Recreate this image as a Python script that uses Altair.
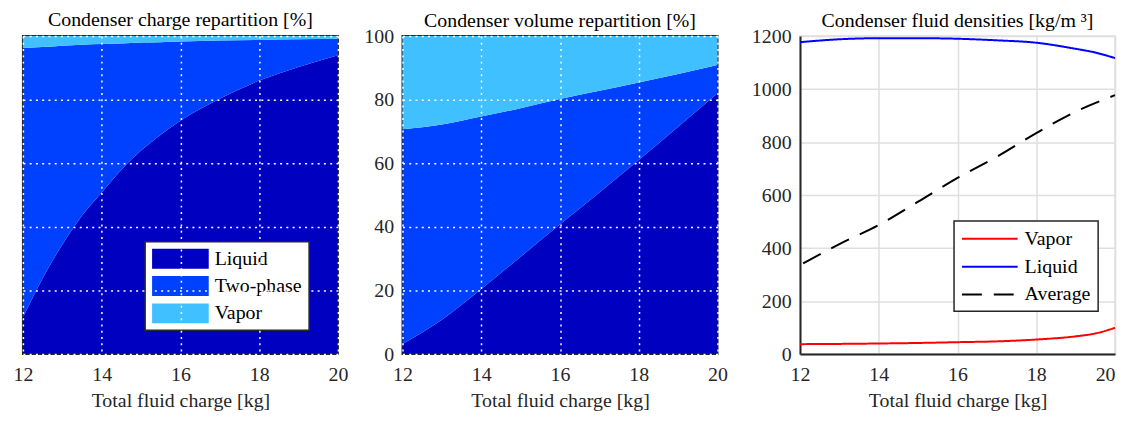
import altair as alt
import pandas as pd

# ---- data ----
charge_x = [12, 12.5, 13, 13.5, 14, 14.5, 15, 15.5, 16, 17, 18, 19, 20]
charge_liquid = [11.5, 23.8, 34.4, 43.5, 50.8, 58, 64, 69, 73.4, 80.3, 86, 90.3, 94]
charge_vapor = [3.75, 3.4, 3.0, 2.7, 2.5, 2.3, 2.05, 1.9, 1.7, 1.4, 1.2, 1.0, 0.8]

vol_x = [12, 12.5, 13, 13.5, 14, 15, 16, 17, 18, 19, 20]
vol_liquid = [3.2, 6.8, 10.8, 15.5, 20.5, 30.6, 40.8, 50.8, 61, 71.5, 82]
vol_vapor = [29.3, 28.7, 27.8, 26.6, 25.3, 22.7, 19.8, 17.2, 14.6, 11.9, 9.1]

dens_x = [12, 13, 14, 15, 16, 17, 18, 19, 19.5, 20]
dens_vapor = [37.5, 38.5, 40, 42, 45, 48, 55, 67, 78, 99]
dens_liquid = [1177, 1188, 1192, 1192, 1190, 1184, 1175, 1152, 1138, 1117]
avg_x = [12.08, 13, 14, 15, 16, 17, 18, 19, 20]
dens_average = [342, 415, 487, 575, 665, 745, 834, 915, 977]

phases = ["Liquid", "Two-phase", "Vapor"]
phase_colors = ["#0000C0", "#0040FF", "#40C0FF"]
dens_series = ["Vapor", "Liquid", "Average"]
dens_colors = ["#FF0000", "#0000FF", "#000000"]
x_ticks = [12, 14, 16, 18, 20]

FONT = "Liberation Serif"
FS = 20
W, H = 317, 320
DARK = "#262626"


def stack_frame(xs, liq, vap):
    rows = []
    for x, l, v in zip(xs, liq, vap):
        rows.append({"x": x, "phase": "Liquid", "idx": 0, "v": l})
        rows.append({"x": x, "phase": "Two-phase", "idx": 1, "v": 100 - l - v})
        rows.append({"x": x, "phase": "Vapor", "idx": 2, "v": v})
    return pd.DataFrame(rows)


def ptitle(text, off):
    return alt.Title(text, frame="group", anchor="middle", offset=off,
                     font=FONT, fontSize=FS, fontWeight="normal", color="black")


def xaxis():
    return alt.Axis(values=x_ticks, title="Total fluid charge [kg]", grid=True,
                    gridColor="white", gridDash=[2, 4.3], gridWidth=1.5, gridOpacity=1,
                    ticks=False, domain=False, labelPadding=11, titlePadding=6,
                    zindex=1, labelFlush=False)


def stack_panel(df, title, show_labels, extent, legend, off):
    color = alt.Color("phase:N", scale=alt.Scale(domain=phases, range=phase_colors),
                      legend=legend)
    yax = alt.Axis(values=[0, 20, 40, 60, 80, 100], title=None, grid=True,
                   gridColor="white", gridDash=[2, 4.3], gridWidth=1.5, gridOpacity=1,
                   ticks=False, domain=False, labels=show_labels, labelPadding=9,
                   minExtent=extent, maxExtent=extent, zindex=1)
    return alt.Chart(df).mark_area(interpolate="monotone", opacity=1).encode(
        x=alt.X("x:Q", scale=alt.Scale(domain=[12, 20], nice=False), axis=xaxis()),
        y=alt.Y("v:Q", stack="zero", scale=alt.Scale(domain=[0, 100], nice=False), axis=yax),
        color=color,
        order=alt.Order("idx:Q", sort="ascending"),
    ).properties(width=W, height=H, title=ptitle(title, off),
                 view=alt.ViewBackground(stroke=DARK, strokeWidth=2))


legend1 = alt.Legend(title=None, orient="none", legendX=123, legendY=207,
                     symbolType="M-1,-1H4.7V1H-1Z", symbolSize=400,
                     symbolStrokeWidth=0, symbolOpacity=1,
                     labelFont=FONT, labelFontSize=FS, labelColor="black",
                     labelOffset=43,
                     fillColor="white", strokeColor=DARK,
                     padding=7, rowPadding=7.5)

p1 = stack_panel(stack_frame(charge_x, charge_liquid, charge_vapor),
                 "Condenser charge repartition [%]", False, 0, legend1, 6)
p2 = stack_panel(stack_frame(vol_x, vol_liquid, vol_vapor),
                 "Condenser volume repartition [%]", True, 44, None, -5)

rows = []
for x, v, l in zip(dens_x, dens_vapor, dens_liquid):
    rows.append({"x": x, "s": "Vapor", "v": v})
    rows.append({"x": x, "s": "Liquid", "v": l})
for x, a in zip(avg_x, dens_average):
    rows.append({"x": x, "s": "Average", "v": a})
ddf = pd.DataFrame(rows)

legend3 = alt.Legend(title=None, orient="none", legendX=155, legendY=186,
                     symbolType="M-1,0H4.6", symbolSize=400, symbolStrokeWidth=2,
                     labelFont=FONT, labelFontSize=FS, labelColor="black",
                     labelOffset=42,
                     fillColor="white", strokeColor=DARK,
                     padding=7, rowPadding=7)

p3 = alt.Chart(ddf).mark_line(interpolate="monotone", strokeWidth=2).encode(
    x=alt.X("x:Q", scale=alt.Scale(domain=[12, 20], nice=False),
            axis=alt.Axis(values=x_ticks, title="Total fluid charge [kg]", grid=True,
                          gridColor="#DFDFDF", gridWidth=1.5, ticks=False,
                          domainColor=DARK, domainWidth=2, labelPadding=11,
                          titlePadding=6, labelFlush=False,
                          labelAlign={"condition": {"test": "datum.value == 20",
                                                    "value": "right"},
                                      "value": "center"})),
    y=alt.Y("v:Q", scale=alt.Scale(domain=[0, 1200], nice=False),
            axis=alt.Axis(values=[0, 200, 400, 600, 800, 1000, 1200], title=None, grid=True,
                          gridColor="#DFDFDF", gridWidth=1.5, ticks=False, format="d",
                          domainColor=DARK, domainWidth=2, labelPadding=9,
                          minExtent=62, maxExtent=62)),
    color=alt.Color("s:N", scale=alt.Scale(domain=dens_series, range=dens_colors),
                    legend=legend3),
    strokeDash=alt.StrokeDash("s:N", scale=alt.Scale(domain=dens_series,
                              range=[[1, 0], [1, 0], [20, 12]]), legend=legend3),
).properties(width=W, height=H,
             title=ptitle("Condenser fluid densities [kg/m \u00b3]", -5),
             view=alt.ViewBackground(stroke="#DFDFDF", strokeWidth=1.5))

chart = alt.hconcat(p1, p2, p3, spacing=9).resolve_scale(
    color="independent", strokeDash="independent"
).resolve_legend(color="independent", strokeDash="independent").properties(
    padding={"left": 4, "top": 0, "right": 0, "bottom": 0},
    background="white",
).configure_axis(
    labelFont=FONT, labelFontSize=FS, labelColor=DARK,
    titleFont=FONT, titleFontSize=FS, titleFontWeight="normal", titleColor=DARK,
).configure_legend(strokeWidth=1.5)

chart.save("out.html", embed_options={"renderer": "svg", "actions": False})
